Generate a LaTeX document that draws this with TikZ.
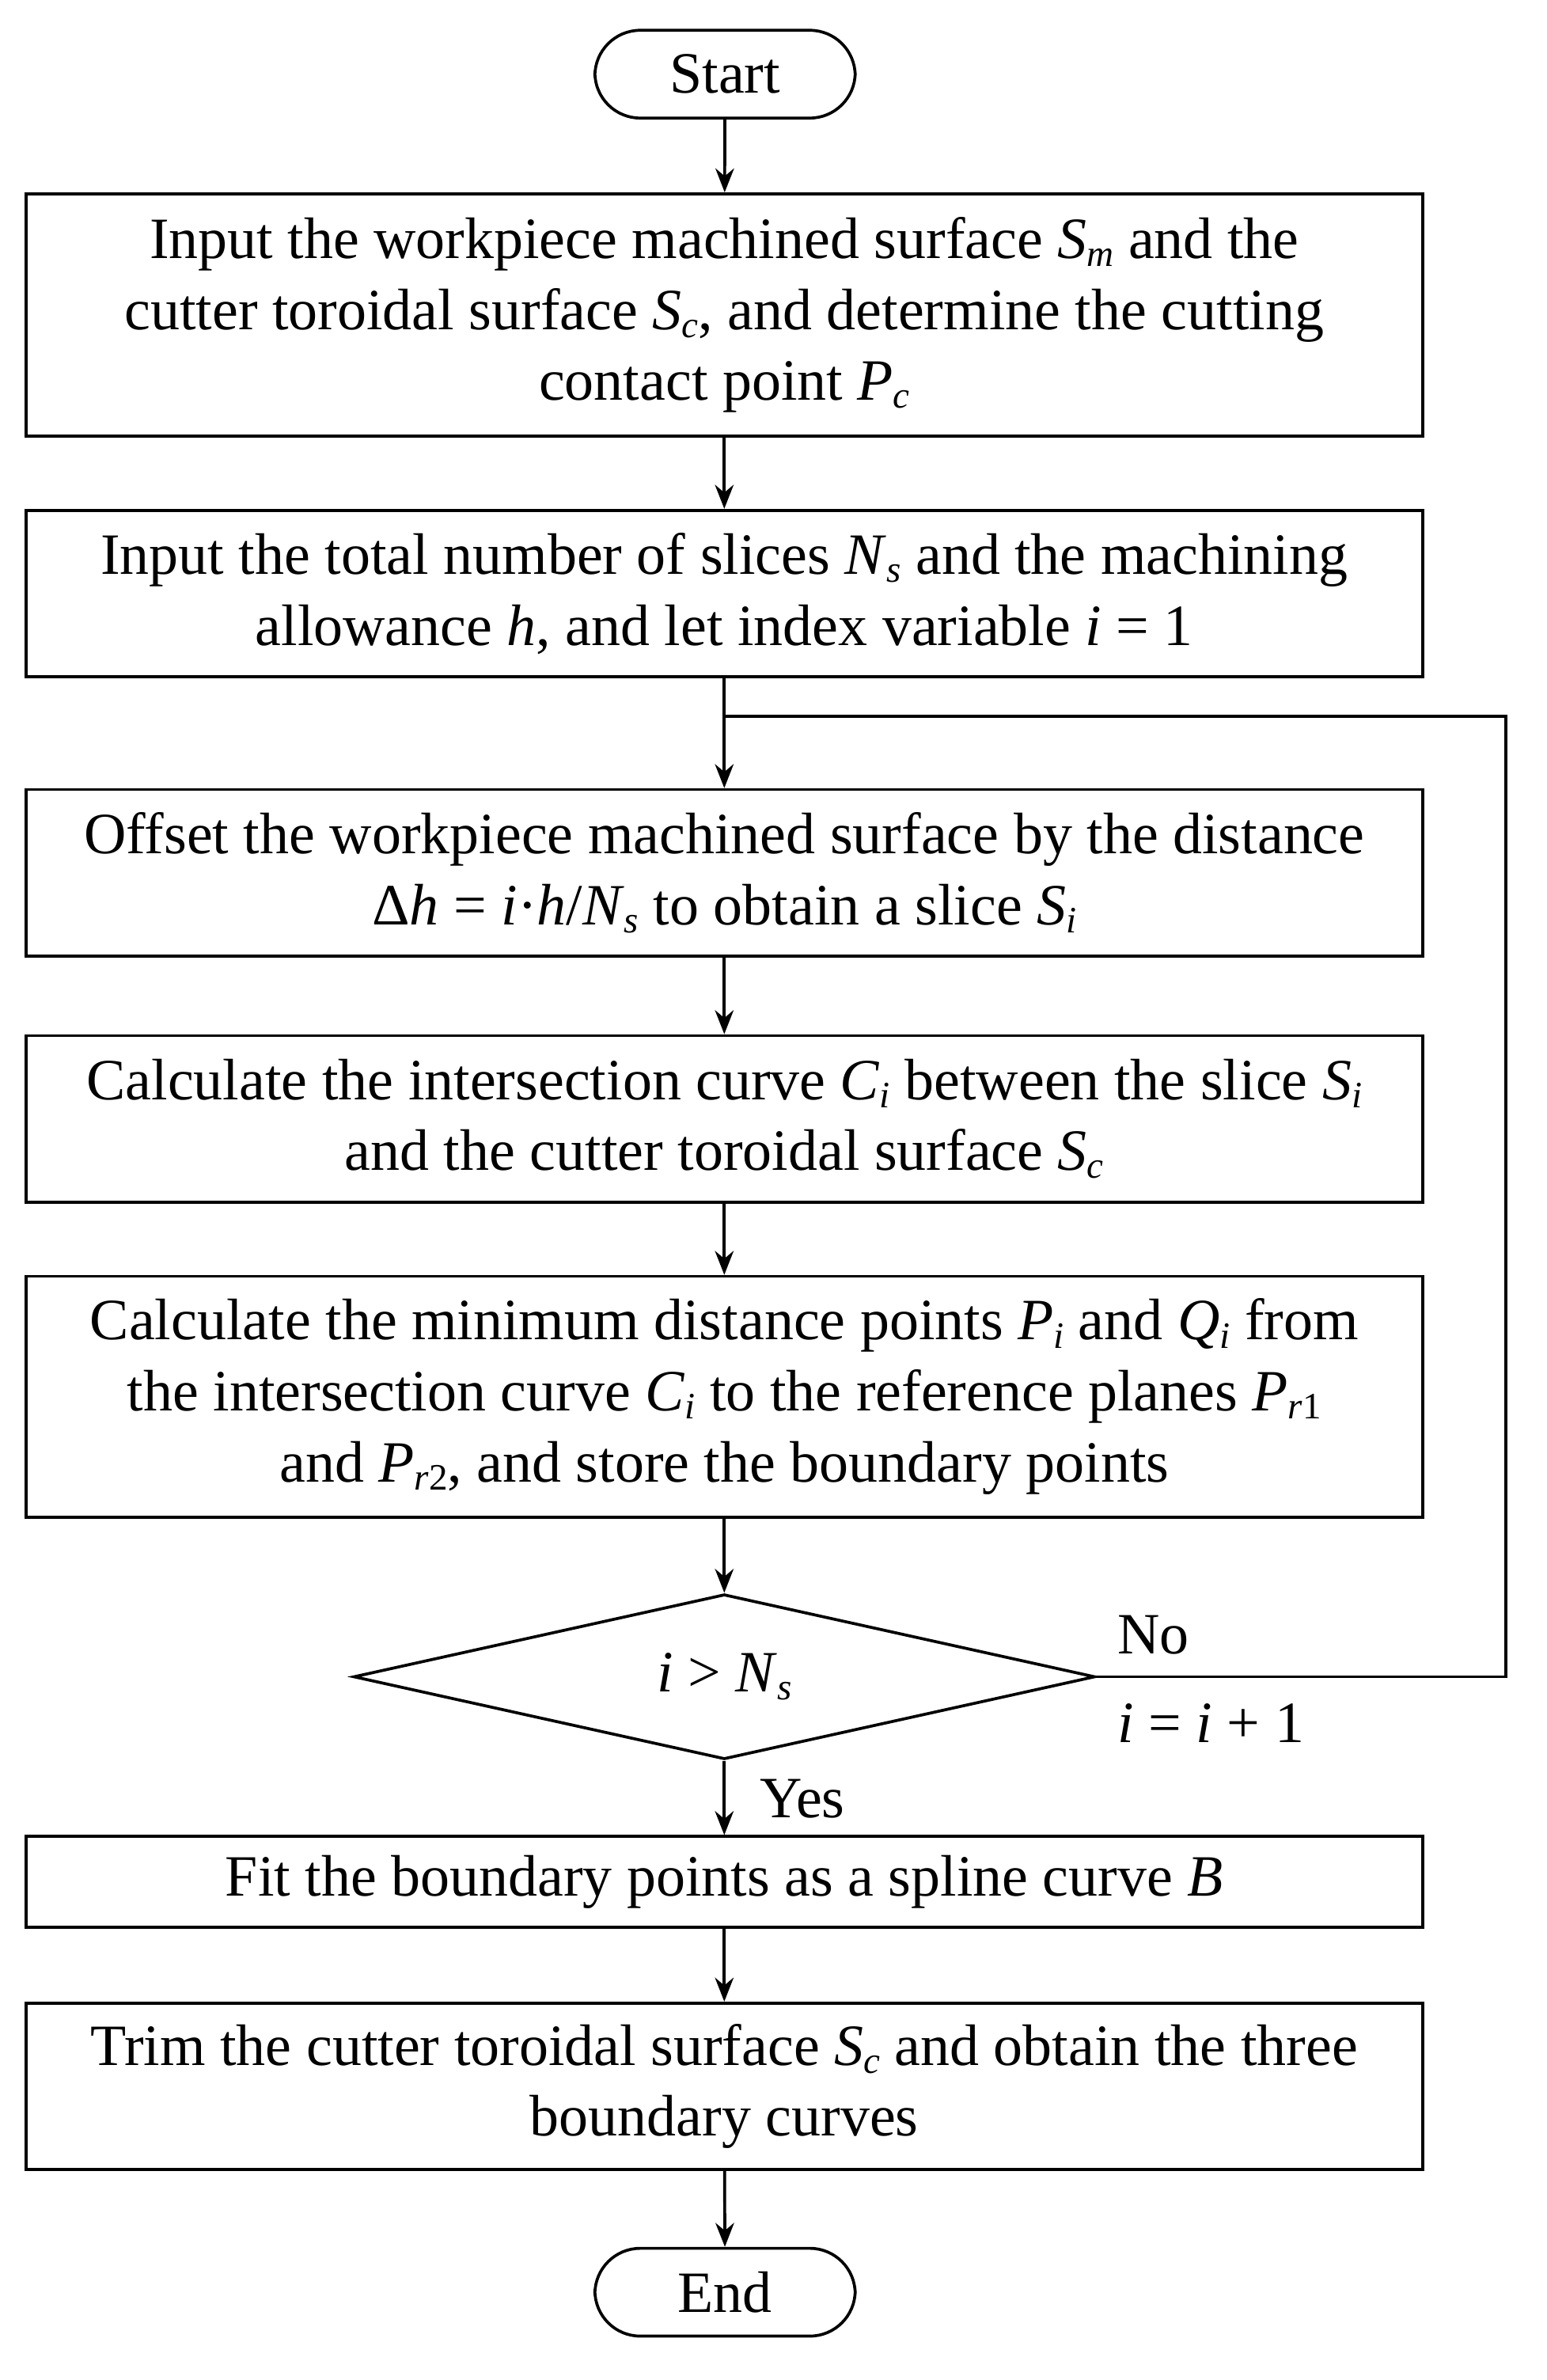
\documentclass[tikz,border=0pt]{standalone}
\usepackage{fontspec}
\setmainfont{Liberation Serif}
\usetikzlibrary{shapes.geometric,arrows.meta}
\newcommand{\vi}[1]{\textit{#1}}
\newcommand{\sbt}[1]{\raisebox{-0.3ex}{\fontsize{14}{14}\selectfont #1}}
\begin{document}
\begin{tikzpicture}[x=0.02cm,y=-0.02cm,
  every node/.style={font=\fontsize{22}{26.7}\selectfont},
  box/.style={draw,line width=1.1pt,minimum width=18.46cm,align=center,inner sep=0pt},
  term/.style={draw,line width=1.1pt,rounded corners=0.6cm,minimum width=3.44cm,minimum height=1.16cm},
  arr/.style={line width=1.1pt,-{Stealth[length=9pt,width=7pt]}},
  ln/.style={line width=1.1pt}]
\useasboundingbox (0,0) rectangle (1022,1572);
\node[term] (start) at (479,49) {Start};
\node[box,minimum height=3.2cm] (b1) at (478.5,208) {Input the workpiece machined surface \vi{S}\sbt{\vi{m}} and the\\ cutter toroidal surface \vi{S}\sbt{\vi{c}}, and determine the cutting\\ contact point \vi{P}\sbt{\vi{c}}};
\node[box,minimum height=2.2cm] (b2) at (478.5,392) {Input the total number of slices \vi{N}\sbt{\vi{s}} and the machining\\ allowance \vi{h}, and let index variable \vi{i} = 1};
\node[box,minimum height=2.2cm] (b3) at (478.5,576.5) {Offset the workpiece machined surface by the distance\\ Δ\vi{h} = \vi{i}·\vi{h}/\vi{N}\sbt{\vi{s}} to obtain a slice \vi{S}\sbt{\vi{i}}};
\node[box,minimum height=2.2cm] (b4) at (478.5,739) {Calculate the intersection curve \vi{C}\sbt{\vi{i}} between the slice \vi{S}\sbt{\vi{i}}\\ and the cutter toroidal surface \vi{S}\sbt{\vi{c}}};
\node[box,minimum height=3.18cm] (b5) at (478.5,922.5) {Calculate the minimum distance points \vi{P}\sbt{\vi{i}} and \vi{Q}\sbt{\vi{i}} from\\ the intersection curve \vi{C}\sbt{\vi{i}} to the reference planes \vi{P}\sbt{\vi{r}1}\\ and \vi{P}\sbt{\vi{r}2}, and store the boundary points};
\node[draw,line width=1.1pt,diamond,aspect=4.5,minimum width=9.8cm,minimum height=2.18cm,inner sep=0pt] (d) at (478.5,1107.5) {\vi{i} > \vi{N}\sbt{\vi{s}}};
\node[box,minimum height=1.2cm] (b6) at (478.5,1243) {Fit the boundary points as a spline curve \vi{B}};
\node[box,minimum height=2.2cm] (b7) at (478.5,1378) {Trim the cutter toroidal surface \vi{S}\sbt{\vi{c}} and obtain the three\\ boundary curves};
\node[term] (end) at (479,1514) {End};
\coordinate (j) at (479,473);
\coordinate (r1) at (995,1107.5);
\coordinate (r2) at (995,473);
\draw[arr] (start) -- (b1);
\draw[arr] (b1) -- (b2);
\draw[arr] (b2) -- (b3);
\draw[arr] (b3) -- (b4);
\draw[arr] (b4) -- (b5);
\draw[arr] (b5) -- (d);
\draw[arr] (d) -- (b6);
\draw[arr] (b6) -- (b7);
\draw[arr] (b7) -- (end);
\draw[ln] (d.east) -- (r1) -- (r2) -- (j);
\node at (762,1080) {No};
\node at (800,1138) {\vi{i} = \vi{i} + 1};
\node at (530,1188) {Yes};
\end{tikzpicture}
\end{document}
